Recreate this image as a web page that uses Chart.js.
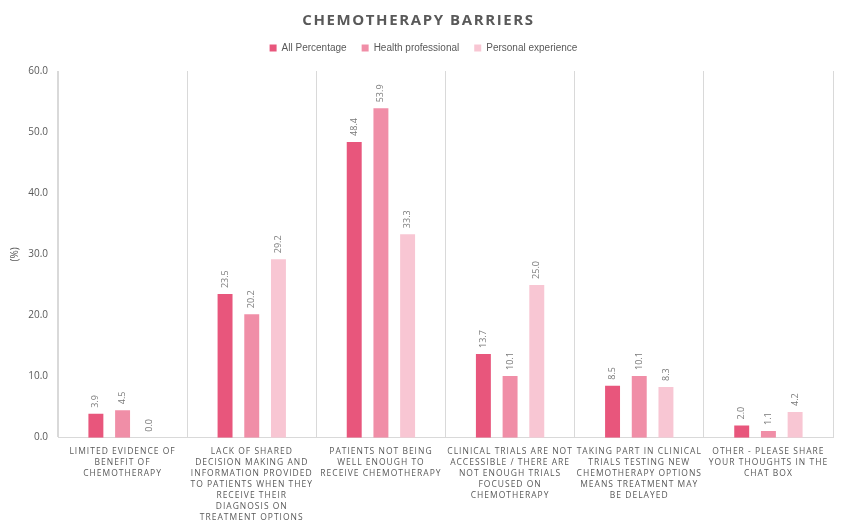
<!DOCTYPE html>
<html>
<head>
<meta charset="utf-8">
<script src="https://cdn.jsdelivr.net/npm/chart.js@4.4.1/dist/chart.umd.min.js"></script>
<style>
html,body{margin:0;padding:0;background:#fff;}
#wrap{width:845px;height:529px;}
</style>
</head>
<body>
<div id="wrap"><canvas id="c" width="845" height="529"></canvas></div>
<script>
const categories = [
  ["LIMITED EVIDENCE OF","BENEFIT OF","CHEMOTHERAPY"],
  ["LACK OF SHARED","DECISION MAKING AND","INFORMATION PROVIDED","TO PATIENTS WHEN THEY","RECEIVE THEIR","DIAGNOSIS ON","TREATMENT OPTIONS"],
  ["PATIENTS NOT BEING","WELL ENOUGH TO","RECEIVE CHEMOTHERAPY"],
  ["CLINICAL TRIALS ARE NOT","ACCESSIBLE / THERE ARE","NOT ENOUGH TRIALS","FOCUSED ON","CHEMOTHERAPY"],
  ["TAKING PART IN CLINICAL","TRIALS TESTING NEW","CHEMOTHERAPY OPTIONS","MEANS TREATMENT MAY","BE DELAYED"],
  ["OTHER - PLEASE SHARE","YOUR THOUGHTS IN THE","CHAT BOX"]
];
const allPercentage = [3.9, 23.5, 48.4, 13.7, 8.5, 2.0];
const healthProfessional = [4.5, 20.2, 53.9, 10.1, 10.1, 1.1];
const personalExperience = [0.0, 29.2, 33.3, 25.0, 8.3, 4.2];
const seriesNames = ["All Percentage", "Health professional", "Personal experience"];
const yTicks = {min: 0, max: 60, step: 10};

const textColor = '#595959';
const gridColor = '#d9d9d9';

const spacingPlugin = {
  id: 'spacing',
  beforeLayout(chart) {
    const lg = chart.legend;
    if (lg && !lg._wrapped) {
      const origFit = lg.fit.bind(lg);
      lg.fit = function() {
        origFit();
        this.height += 8;
      };
      const origDraw = lg.draw.bind(lg);
      lg.draw = function() {
        const ctx = chart.ctx;
        ctx.save();
        ctx.translate(5, 0);
        origDraw();
        ctx.restore();
      };
      lg._wrapped = true;
    }
  },
  afterLayout(chart) {
    const x = chart.scales.x;
    if (x && !x._wrapped) {
      const orig = x.drawLabels.bind(x);
      x.drawLabels = function(area) {
        const ctx = chart.ctx;
        ctx.save();
        ctx.letterSpacing = '1.0px';
        orig(area);
        ctx.restore();
      };
      x._wrapped = true;
    }
    const t = chart.titleBlock;
    if (t && !t._wrapped) {
      const origT = t.draw.bind(t);
      t.draw = function() {
        const ctx = chart.ctx;
        ctx.save();
        ctx.letterSpacing = '1.6px';
        origT();
        ctx.restore();
      };
      t._wrapped = true;
    }
  }
};

const valueLabels = {
  id: 'valueLabels',
  afterDatasetsDraw(chart) {
    const ctx = chart.ctx;
    ctx.save();
    ctx.font = '9px "Open Sans", sans-serif';
    ctx.fillStyle = '#7a7a7a';
    ctx.textAlign = 'left';
    ctx.textBaseline = 'middle';
    chart.data.datasets.forEach((ds, i) => {
      const meta = chart.getDatasetMeta(i);
      meta.data.forEach((bar, j) => {
        ctx.save();
        ctx.translate(bar.x, bar.y - 6);
        ctx.rotate(-Math.PI / 2);
        ctx.fillText(ds.data[j].toFixed(1), 0, 0);
        ctx.restore();
      });
    });
    ctx.restore();
  }
};

new Chart(document.getElementById('c'), {
  type: 'bar',
  data: {
    labels: categories,
    datasets: [
      {label: seriesNames[0], data: allPercentage, backgroundColor: '#E8567C'},
      {label: seriesNames[1], data: healthProfessional, backgroundColor: '#F08EA7'},
      {label: seriesNames[2], data: personalExperience, backgroundColor: '#F8C6D3'}
    ]
  },
  options: {
    responsive: false,
    animation: false,
    layout: {padding: {left: 4, right: 12, top: 4, bottom: -2}},
    datasets: {bar: {categoryPercentage: 0.62, barPercentage: 0.56}},
    plugins: {
      title: {
        display: true,
        text: 'CHEMOTHERAPY BARRIERS',
        color: textColor,
        font: {family: '"Open Sans", sans-serif', size: 15, weight: 'bold'},
        padding: {top: 8, bottom: -2}
      },
      legend: {
        display: true,
        labels: {
          color: textColor,
          font: {family: '"Liberation Sans", Arial, sans-serif', size: 10},
          boxWidth: 7,
          boxHeight: 7,
          padding: 15
        }
      },
      tooltip: {enabled: false}
    },
    scales: {
      x: {
        afterFit(scale) { scale.paddingLeft = 0; scale.paddingRight = 0; },
        grid: {display: true, color: gridColor, drawTicks: false, offset: true},
        border: {display: true, color: gridColor},
        ticks: {
          color: textColor,
          font: {family: '"Open Sans", sans-serif', size: 8.5, lineHeight: 1.3},
          maxRotation: 0,
          minRotation: 0,
          autoSkip: false,
          padding: 8
        }
      },
      y: {
        min: yTicks.min,
        max: yTicks.max,
        afterFit(scale) { scale.width = 54; },
        grid: {display: false, drawTicks: false},
        border: {display: true, color: gridColor},
        ticks: {
          stepSize: yTicks.step,
          color: textColor,
          font: {family: '"Open Sans", sans-serif', size: 10},
          callback: v => v.toFixed(1),
          padding: 10
        },
        title: {
          display: true,
          text: '(%)',
          color: textColor,
          font: {family: '"Open Sans", sans-serif', size: 10},
          padding: {top: 5, bottom: 0}
        }
      }
    }
  },
  plugins: [spacingPlugin, valueLabels]
});
</script>
</body>
</html>
